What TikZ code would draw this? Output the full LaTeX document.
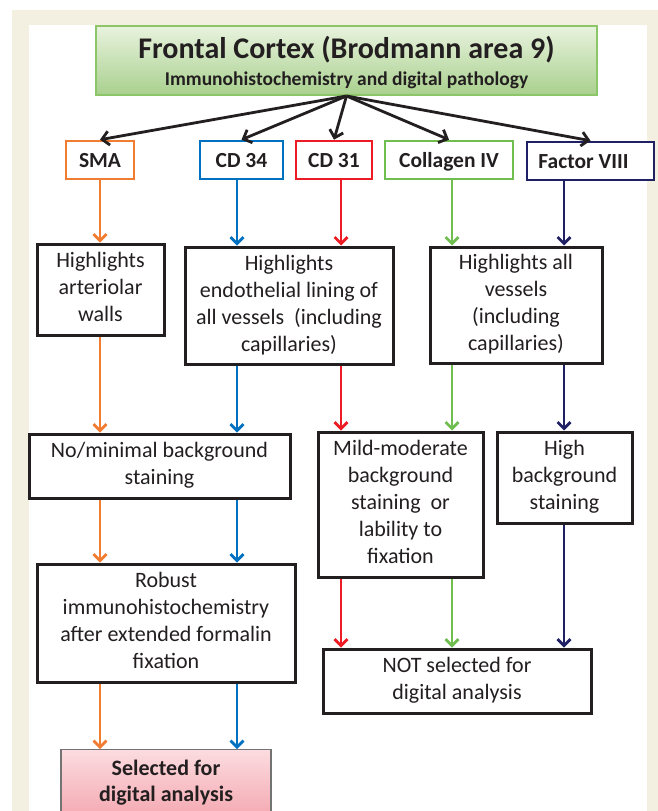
\documentclass[tikz,border=0pt]{standalone}
\usepackage{fontspec}
\setmainfont{Carlito}
\usetikzlibrary{arrows.meta,calc}
\definecolor{beige}{RGB}{243,240,226}
\definecolor{ink}{RGB}{35,31,32}
\definecolor{cOrange}{RGB}{240,125,50}
\definecolor{cBlue}{RGB}{0,112,192}
\definecolor{cRed}{RGB}{237,28,36}
\definecolor{cGreen}{RGB}{112,190,80}
\definecolor{cNavy}{RGB}{32,32,100}
\definecolor{tgTop}{RGB}{232,243,222}
\definecolor{tgBot}{RGB}{169,208,142}
\definecolor{tgLine}{RGB}{140,198,105}
\definecolor{pkTop}{RGB}{251,220,224}
\definecolor{pkBot}{RGB}{242,150,160}
\tikzset{
  blackbox/.style={draw=ink, line width=3pt, fill=white, align=center, inner sep=0pt,
    text=ink, font=\fontsize{22}{27}\selectfont},
  markerbox/.style={draw=#1, line width=2.6pt, fill=white, inner sep=0pt, minimum height=38pt,
    text=ink, font=\fontsize{21.5}{26}\selectfont\bfseries, text height=14.5pt, text depth=0pt},
  flow/.style={line width=2.7pt, -{Straight Barb[length=6.5pt,width=13pt]}},
  topflow/.style={draw=ink, line width=2.8pt, -{Straight Barb[length=7pt,width=14pt]}},
}
\begin{document}
\begin{tikzpicture}[x=1pt,y=-1pt]
\useasboundingbox (0,0) rectangle (658,811);
\fill[beige] (12,10) rectangle (658,811);
\fill[white] (29,25) rectangle (647,811);

% column coordinates
\coordinate (cO) at (100,0);
\coordinate (cB) at (237,0);
\coordinate (cR) at (341,0);
\coordinate (cG) at (452,0);
\coordinate (cN) at (564,0);

% title
\node[draw=tgLine, line width=2pt, top color=tgTop, bottom color=tgBot,
      minimum width=501pt, minimum height=69pt, inner sep=0pt] (title) at (346.5,60.5) {};
\node[anchor=base, text=ink, font=\fontsize{30}{34}\selectfont\bfseries] (titleA) at (346.5,58)
  {Frontal Cortex (Brodmann area 9)};
\node[anchor=base, text=ink, font=\fontsize{19.5}{23}\selectfont\bfseries] (titleB) at (346.5,85)
  {Immunohistochemistry and digital pathology};

% marker boxes
\node[markerbox=cOrange, minimum width=68pt]  (sma) at (100,160) {SMA};
\node[markerbox=cBlue,   minimum width=83pt]  (cd34) at (241.5,160) {CD 34};
\node[markerbox=cRed,    minimum width=76pt]  (cd31) at (334,160) {CD 31};
\node[markerbox=cGreen,  minimum width=128pt] (col) at (449,160) {Collagen IV};
\node[markerbox=cNavy,   minimum width=127pt] (f8) at (590.5,161) {\hspace*{-14pt}Factor VIII};

% second row
\node[blackbox, minimum width=127pt, minimum height=91pt] (hA) at (100.5,289.5)
  {\strut Highlights\\arteriolar\\walls\strut};
\node[blackbox, minimum width=208pt, minimum height=117pt] (hB) at (289,305.5)
  {\strut Highlights\\endothelial lining of\\all vessels~ (including\\capillaries)\strut};
\node[blackbox, minimum width=172pt, minimum height=116pt] (hC) at (516,305)
  {\strut Highlights all\\vessels\\(including\\capillaries)\strut};

% third row
\node[blackbox, minimum width=261pt, minimum height=64pt] (noMin) at (159.5,466)
  {\strut No/minimal background\\staining\strut};
\node[blackbox, minimum width=165pt, minimum height=145pt] (mild) at (400.5,504.5)
  {\strut Mild-moderate\\background\\staining~ or\\lability to\\fixation\strut};
\node[blackbox, minimum width=135pt, minimum height=91pt] (high) at (564.5,477.5)
  {\strut High\\background\\staining\strut};

% fourth row
\node[blackbox, minimum width=258pt, minimum height=118pt] (robust) at (166,623)
  {\strut Robust\\immunohistochemistry\\after extended formalin\\fixation\strut};
\node[blackbox, minimum width=268pt, minimum height=64pt] (notSel) at (457,681)
  {\strut NOT selected for\\digital analysis\strut};

% selected box
\node[draw=black!55, line width=1.3pt, top color=pkTop, bottom color=pkBot, align=center,
      anchor=north, minimum width=210pt, inner xsep=0pt, inner ysep=10pt, text=ink,
      font=\fontsize{22}{26}\selectfont\bfseries] (sel) at (166,749)
  {Selected for\\digital analysis\\[4pt]};

% top arrows
\foreach \t in {sma,cd34,cd31,col,f8}
  \draw[topflow] (title.south) -- (\t.north);

% orange
\draw[flow, cOrange] (sma.south -| cO) -- (hA.north -| cO);
\draw[flow, cOrange] (hA.south -| cO) -- (noMin.north -| cO);
\draw[flow, cOrange] (noMin.south -| cO) -- (robust.north -| cO);
\draw[flow, cOrange] (robust.south -| cO) -- (sel.north -| cO);
% blue
\draw[flow, cBlue] (cd34.south -| cB) -- (hB.north -| cB);
\draw[flow, cBlue] (hB.south -| cB) -- (noMin.north -| cB);
\draw[flow, cBlue] (noMin.south -| cB) -- (robust.north -| cB);
\draw[flow, cBlue] (robust.south -| cB) -- (sel.north -| cB);
% red
\draw[flow, cRed] (cd31.south -| cR) -- (hB.north -| cR);
\draw[flow, cRed] (hB.south -| cR) -- (mild.north -| cR);
\draw[flow, cRed] (mild.south -| cR) -- (notSel.north -| cR);
% green
\draw[flow, cGreen] (col.south -| cG) -- (hC.north -| cG);
\draw[flow, cGreen] (hC.south -| cG) -- (mild.north -| cG);
\draw[flow, cGreen] (mild.south -| cG) -- (notSel.north -| cG);
% navy
\draw[flow, cNavy] (f8.south -| cN) -- (hC.north -| cN);
\draw[flow, cNavy] (hC.south -| cN) -- (high.north -| cN);
\draw[flow, cNavy] (high.south -| cN) -- (notSel.north -| cN);
\end{tikzpicture}
\end{document}
